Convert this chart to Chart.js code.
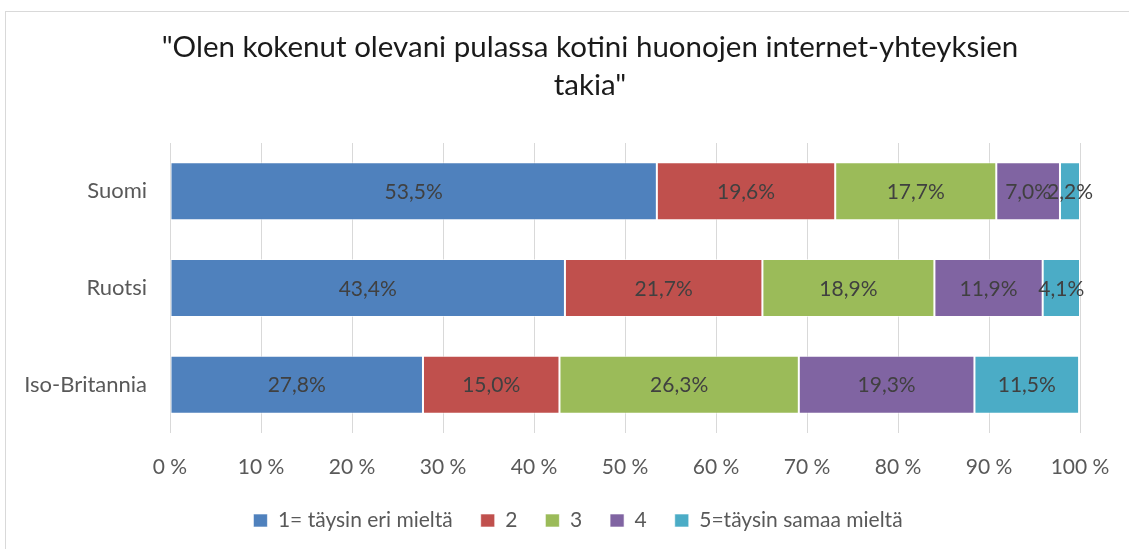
<!DOCTYPE html>
<html lang="fi">
<head>
<meta charset="utf-8">
<script src="https://cdn.jsdelivr.net/npm/chart.js@4.4.1/dist/chart.umd.min.js"></script>
<style>
  html, body { margin: 0; padding: 0; background: #fff; }
  #wrap { position: relative; width: 1129px; height: 549px; overflow: hidden; }
  #frame { position: absolute; left: 5px; top: 11px; width: 1140px; height: 560px; border: 1px solid #D9D9D9; box-sizing: border-box; }
  #title { position: absolute; left: 90px; width: 1000px; top: 27px; text-align: center;
           font-family: Lato, sans-serif; font-size: 29.5px; line-height: 38px; color: #1a1a1a; }
  canvas { position: absolute; left: 0; top: 0; }
</style>
</head>
<body>
<div id="wrap">
  <div id="frame"></div>
  <canvas id="chart" width="1129" height="549"></canvas>
  <div id="title">"Olen kokenut olevani pulassa kotini huonojen internet-yhteyksien<br>takia"</div>
</div>
<script>
// Data
const countries = ['Suomi', 'Ruotsi', 'Iso-Britannia'];
const answers   = ['1= täysin eri mieltä', '2', '3', '4', '5=täysin samaa mieltä'];
const ans1 = [53.5, 43.4, 27.8];
const ans2 = [19.6, 21.7, 15.0];
const ans3 = [17.7, 18.9, 26.3];
const ans4 = [7.0, 11.9, 19.3];
const ans5 = [2.2, 4.1, 11.5];
const xTicks = [0, 10, 20, 30, 40, 50, 60, 70, 80, 90, 100];
const colors = ['#4F81BD', '#C0504D', '#9BBB59', '#8064A2', '#4BACC6'];

const FONT = 'Lato, sans-serif';

// Arvot palkkien keskelle
const barLabels = {
  id: 'barLabels',
  afterDatasetsDraw(chart) {
    const { ctx } = chart;
    ctx.save();
    ctx.font = '21px ' + FONT;
    ctx.fillStyle = '#404040';
    ctx.textAlign = 'center';
    ctx.textBaseline = 'middle';
    chart.data.datasets.forEach((ds, i) => {
      chart.getDatasetMeta(i).data.forEach((bar, j) => {
        const c = bar.getCenterPoint();
        ctx.fillText(ds.data[j].toFixed(1).replace('.', ',') + '%', c.x, c.y + 1);
      });
    });
    ctx.restore();
  },
};

// Selite hieman oikealle, kuten alkuperäisessä
const legendShift = {
  id: 'legendShift',
  afterLayout(chart) {
    if (!chart.legend) return;
    chart.legend.left += 38;
    chart.legend.right += 38;
  },
};

new Chart(document.getElementById('chart'), {
  type: 'bar',
  data: {
    labels: countries,
    datasets: [ans1, ans2, ans3, ans4, ans5].map((d, i) => ({
      label: answers[i],
      data: d,
      backgroundColor: colors[i],
      borderColor: 'rgba(255,255,255,.6)',
      borderWidth: 1,
      borderSkipped: false,
      barPercentage: 0.6,
      categoryPercentage: 1,
    })),
  },
  options: {
    indexAxis: 'y',
    responsive: false,
    animation: false,
    layout: { padding: { top: 143, right: 49, bottom: 8, left: 0 } },
    plugins: {
      legend: {
        position: 'bottom',
        labels: {
          color: '#595959', font: { family: FONT, size: 21 },
          boxWidth: 14, boxHeight: 13, padding: 28,
        },
      },
      tooltip: { enabled: false },
    },
    scales: {
      x: {
        stacked: true, min: 0, max: 100,
        afterBuildTicks: s => { s.ticks = xTicks.map(v => ({ value: v })); },
        afterFit: s => { s.height = 49; s.paddingLeft = 0; s.paddingRight = 0; },
        border: { display: false },
        grid: { color: '#D9D9D9', drawTicks: false },
        ticks: {
          color: '#595959', font: { family: FONT, size: 21 }, padding: 22,
          maxRotation: 0, callback: v => v + ' %',
        },
      },
      y: {
        stacked: true,
        afterFit: s => { s.width = 170; },
        border: { display: false },
        grid: { display: false },
        ticks: { color: '#595959', font: { family: FONT, size: 22 }, padding: 15 },
      },
    },
  },
  plugins: [barLabels, legendShift],
});
</script>
</body>
</html>
